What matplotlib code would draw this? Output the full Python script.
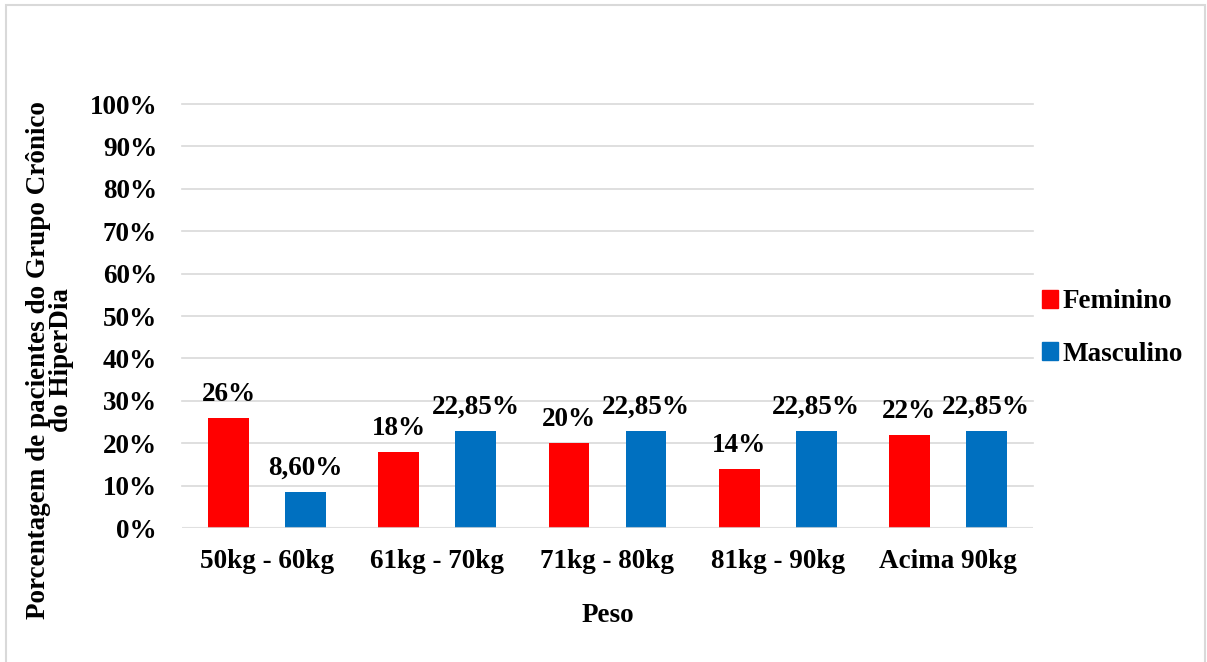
import numpy as np
import matplotlib.pyplot as plt
from matplotlib.patches import Rectangle, Patch

# Weight ranges and share of patients (%) per sex
categories = ["50kg - 60kg", "61kg - 70kg", "71kg - 80kg", "81kg - 90kg", "Acima 90kg"]
feminino = [26, 18, 20, 14, 22]
masculino = [8.60, 22.85, 22.85, 22.85, 22.85]
y_ticks = [0, 10, 20, 30, 40, 50, 60, 70, 80, 90, 100]

RED = "#FF0000"
BLUE = "#0070C0"
GRID = "#D9D9D9"

plt.rcParams["font.family"] = ["Liberation Serif", "DejaVu Serif"]
plt.rcParams["font.weight"] = "bold"
FS = 19.5

fig = plt.figure(figsize=(12.07, 6.62), dpi=100)
ax = fig.add_axes([182 / 1207, 1 - 528 / 662, 851 / 1207, 424 / 662])

x = np.arange(len(categories))
w = 0.24
off = 0.226
b1 = ax.bar(x - off, feminino, w, color=RED, label="Feminino", zorder=2)
b2 = ax.bar(x + off, masculino, w, color=BLUE, label="Masculino", zorder=2)

# value labels above each bar
for rect, v in zip(b1, feminino):
    ax.annotate(f"{v:.0f}%", (rect.get_x() + rect.get_width() / 2, v),
                xytext=(0, 8), textcoords="offset points", ha="center", va="bottom",
                fontsize=FS, fontweight="bold")
for rect, v in zip(b2, masculino):
    ax.annotate(f"{v:.2f}%".replace(".", ","), (rect.get_x() + rect.get_width() / 2, v),
                xytext=(0, 8), textcoords="offset points", ha="center", va="bottom",
                fontsize=FS, fontweight="bold")

ax.set_xlim(-0.5, len(categories) - 0.5)
ax.set_ylim(0, 100)
ax.set_yticks(y_ticks)
ax.set_yticklabels([f"{t}%" for t in y_ticks], fontsize=FS, fontweight="bold")
ax.set_xticks(x)
ax.set_xticklabels(categories, fontsize=FS, fontweight="bold")
ax.tick_params(axis="y", length=0, pad=18)
ax.tick_params(axis="x", length=0, pad=15)

for t in y_ticks[1:]:
    ax.axhline(t, color=GRID, lw=1.2, zorder=1, clip_on=False)
ax.axhline(0, color=GRID, lw=1.5, zorder=3, alpha=0.8)
for s in ax.spines.values():
    s.set_visible(False)

fig.text(608 / 1207, 1 - 615 / 662, "Peso", ha="center", va="center",
         fontsize=FS, fontweight="bold")
fig.text(50 / 1207, 1 - 360 / 662,
         "Porcentagem de pacientes do Grupo Crônico\ndo HiperDia",
         ha="center", va="center", rotation=90, fontsize=FS, fontweight="bold",
         linespacing=0.85, multialignment="center")

handles = [Patch(color=RED), Patch(color=BLUE)]
fig.legend(handles, ["Feminino", "Masculino"], loc="center left",
           bbox_to_anchor=(1031 / 1207, 1 - 328 / 662), frameon=False,
           prop={"size": FS, "weight": "bold"}, handlelength=0.6, handleheight=0.6,
           handletextpad=0.15, labelspacing=1.0, borderaxespad=0)

# light frame around the chart
fig.patches.append(Rectangle((6 / 1207, -0.01), 1199 / 1207, 1.01 - 5 / 662,
                             transform=fig.transFigure, fill=False,
                             edgecolor=GRID, lw=1.5))

fig.savefig("out.png", dpi=100)
